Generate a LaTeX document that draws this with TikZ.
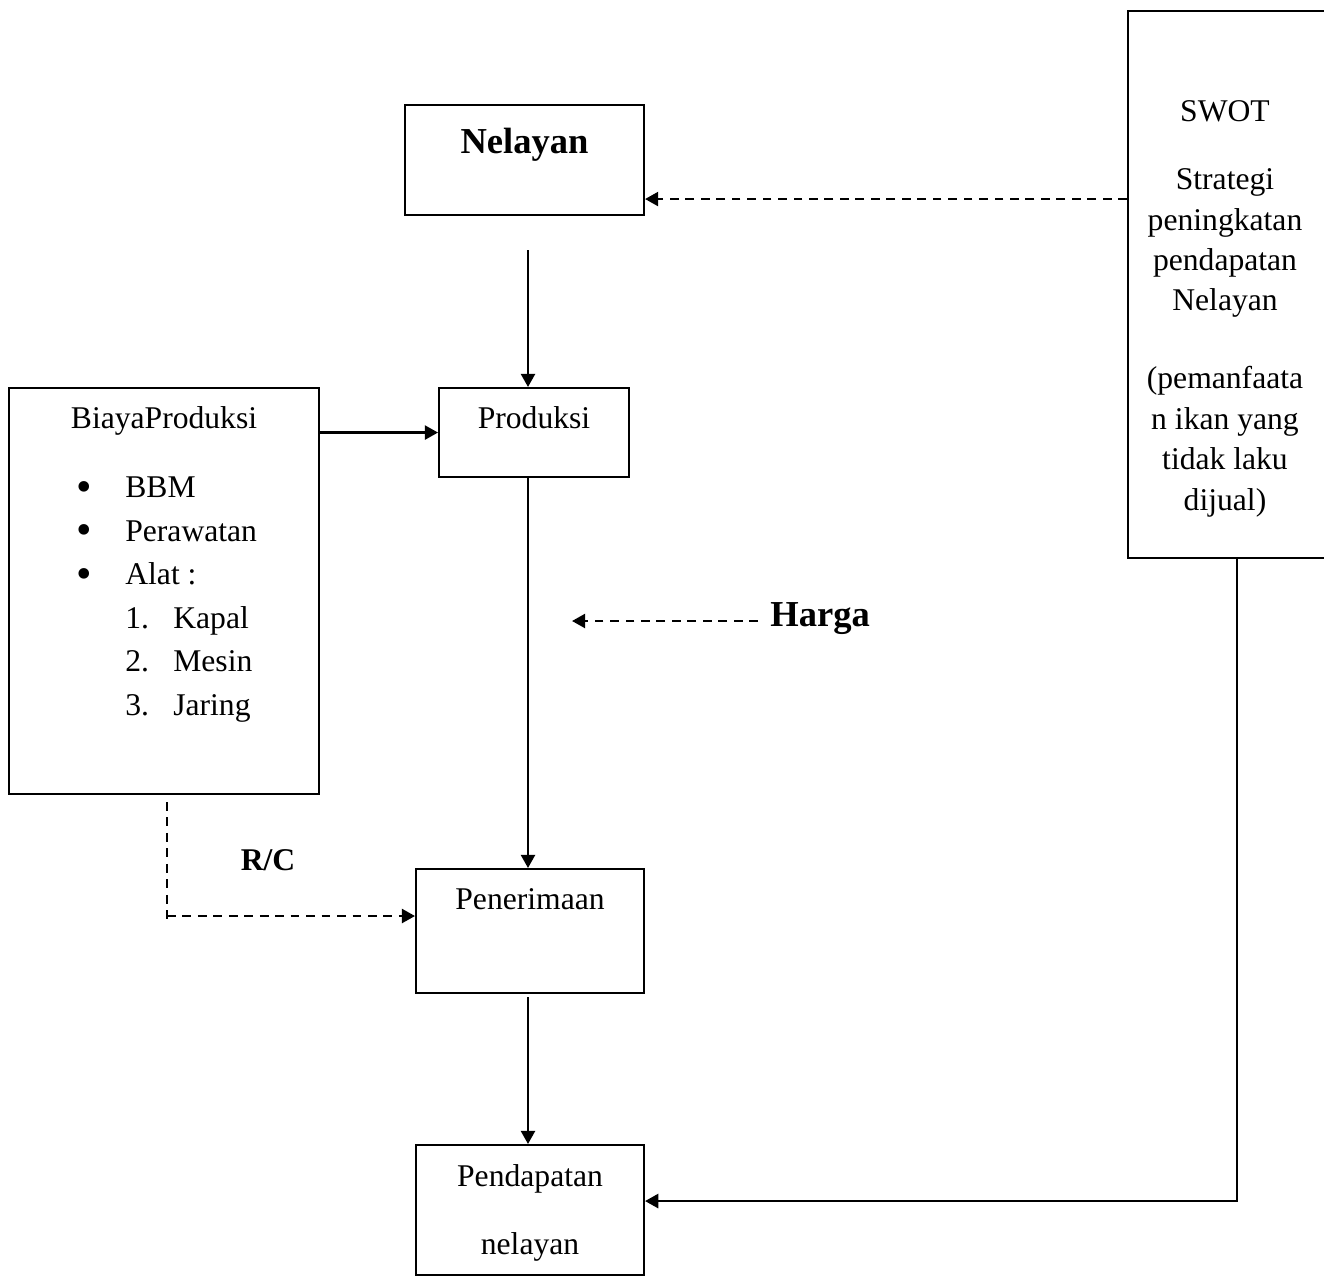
\documentclass[tikz,border=0pt]{standalone}
\usepackage{fontspec}
\setmainfont{Liberation Serif}
\usetikzlibrary{arrows.meta}

\begin{document}
\begin{tikzpicture}[
    x=0.02cm, y=-0.02cm,
    every node/.style={font=\fontsize{18}{23}\selectfont},
    box/.style={rectangle, draw, line width=1.2pt, inner sep=0pt, anchor=north west, align=center},
    head/.style={font=\fontsize{20.8}{25}\selectfont\bfseries},
    txt/.style={inner sep=0pt, align=center},
    arr/.style={-{Triangle[length=7.5pt, width=8pt]}, line width=1.4pt},
    darr/.style={arr, dash pattern=on 5pt off 3.8pt},
    dline/.style={line width=1.4pt, dash pattern=on 5pt off 3.8pt},
]
    \useasboundingbox (0,0) rectangle (1324,1275);

    % --- boxes (pixel grid, top-left anchored) ---
    \node[box, head, minimum width=4.78cm, text height=0.96cm, text depth=1.24cm] (nelayan) at (404,104) {Nelayan};
    \node[box, minimum width=3.8cm, text height=0.8cm, text depth=0.98cm] (produksi) at (438,387) {Produksi};
    \node[box, minimum width=6.2cm, text height=0.8cm, text depth=7.32cm] (biaya) at (8,387) {BiayaProduksi};
    \node[box, minimum width=4.56cm, text height=0.8cm, text depth=1.68cm] (penerimaan) at (415,868) {Penerimaan};
    % two lines: the box baseline is the last line
    \node[box, minimum width=4.56cm, text height=2.18cm, text depth=0.42cm,
          font=\fontsize{18}{38.6}\selectfont] (pendapatan) at (415,1144) {Pendapatan\\nelayan};
    \node[box, minimum width=4.06cm, minimum height=10.94cm] (swot) at (1127,10) {};

    % --- texts ---
    \node[txt, anchor=base] (swotText) at (1225,510)
        {SWOT\\[0.55cm]Strategi\\peningkatan\\pendapatan\\Nelayan\\[0.75cm](pemanfaata\\n ikan yang\\tidak laku\\dijual)};
    \node[txt, anchor=base west, align=left, font=\fontsize{18}{24.75}\selectfont] (biayaList) at (76,715)
        {\makebox[0.98cm][l]{\raisebox{-0.12em}{\scalebox{1.4}{\textbullet}}}BBM\\
         \makebox[0.98cm][l]{\raisebox{-0.12em}{\scalebox{1.4}{\textbullet}}}Perawatan\\
         \makebox[0.98cm][l]{\raisebox{-0.12em}{\scalebox{1.4}{\textbullet}}}Alat :\\
         \hspace*{0.98cm}\makebox[0.96cm][l]{1.}Kapal\\
         \hspace*{0.98cm}\makebox[0.96cm][l]{2.}Mesin\\
         \hspace*{0.98cm}\makebox[0.96cm][l]{3.}Jaring};
    \node[txt, head, anchor=base west] (harga) at (770,626) {Harga};
    \node[txt, font=\fontsize{18}{20}\selectfont\bfseries, anchor=base] (rc) at (268,870) {R/C};

    % --- free ends ---
    \coordinate (nelayanOut) at (528,250);
    \coordinate (penerimaanOut) at (528,997);
    \coordinate (nelayanIn) at ([yshift=-0.78cm]nelayan.east);
    \coordinate (pendapatanIn) at ([yshift=0.18cm]pendapatan.east);
    \coordinate (swotOut) at (1237,557);
    \coordinate (hargaFrom) at (758,621);
    \coordinate (hargaTip) at (572,621);
    \coordinate (rcStart) at (167,802);
    \coordinate (rcCorner) at (167,916);
    \coordinate (rcEnd) at (167,922);

    % --- arrows ---
    \draw[arr] (nelayanOut) -- (nelayanOut |- produksi.north);
    \draw[arr] (biaya.north east |- produksi.west) -- (produksi.west);
    \draw[arr] (produksi.south -| nelayanOut) -- (penerimaan.north -| nelayanOut);
    \draw[arr] (penerimaanOut) -- (penerimaanOut |- pendapatan.north);
    \draw[darr] (swot.west |- nelayanIn) -- (nelayanIn);
    \draw[arr] (swotOut) |- (pendapatanIn);
    \draw[darr] (hargaFrom) -- (hargaTip);
    \draw[dline] (rcStart) -- (rcEnd);
    \draw[darr] (rcCorner) -- (rcCorner -| penerimaan.west);
\end{tikzpicture}
\end{document}
